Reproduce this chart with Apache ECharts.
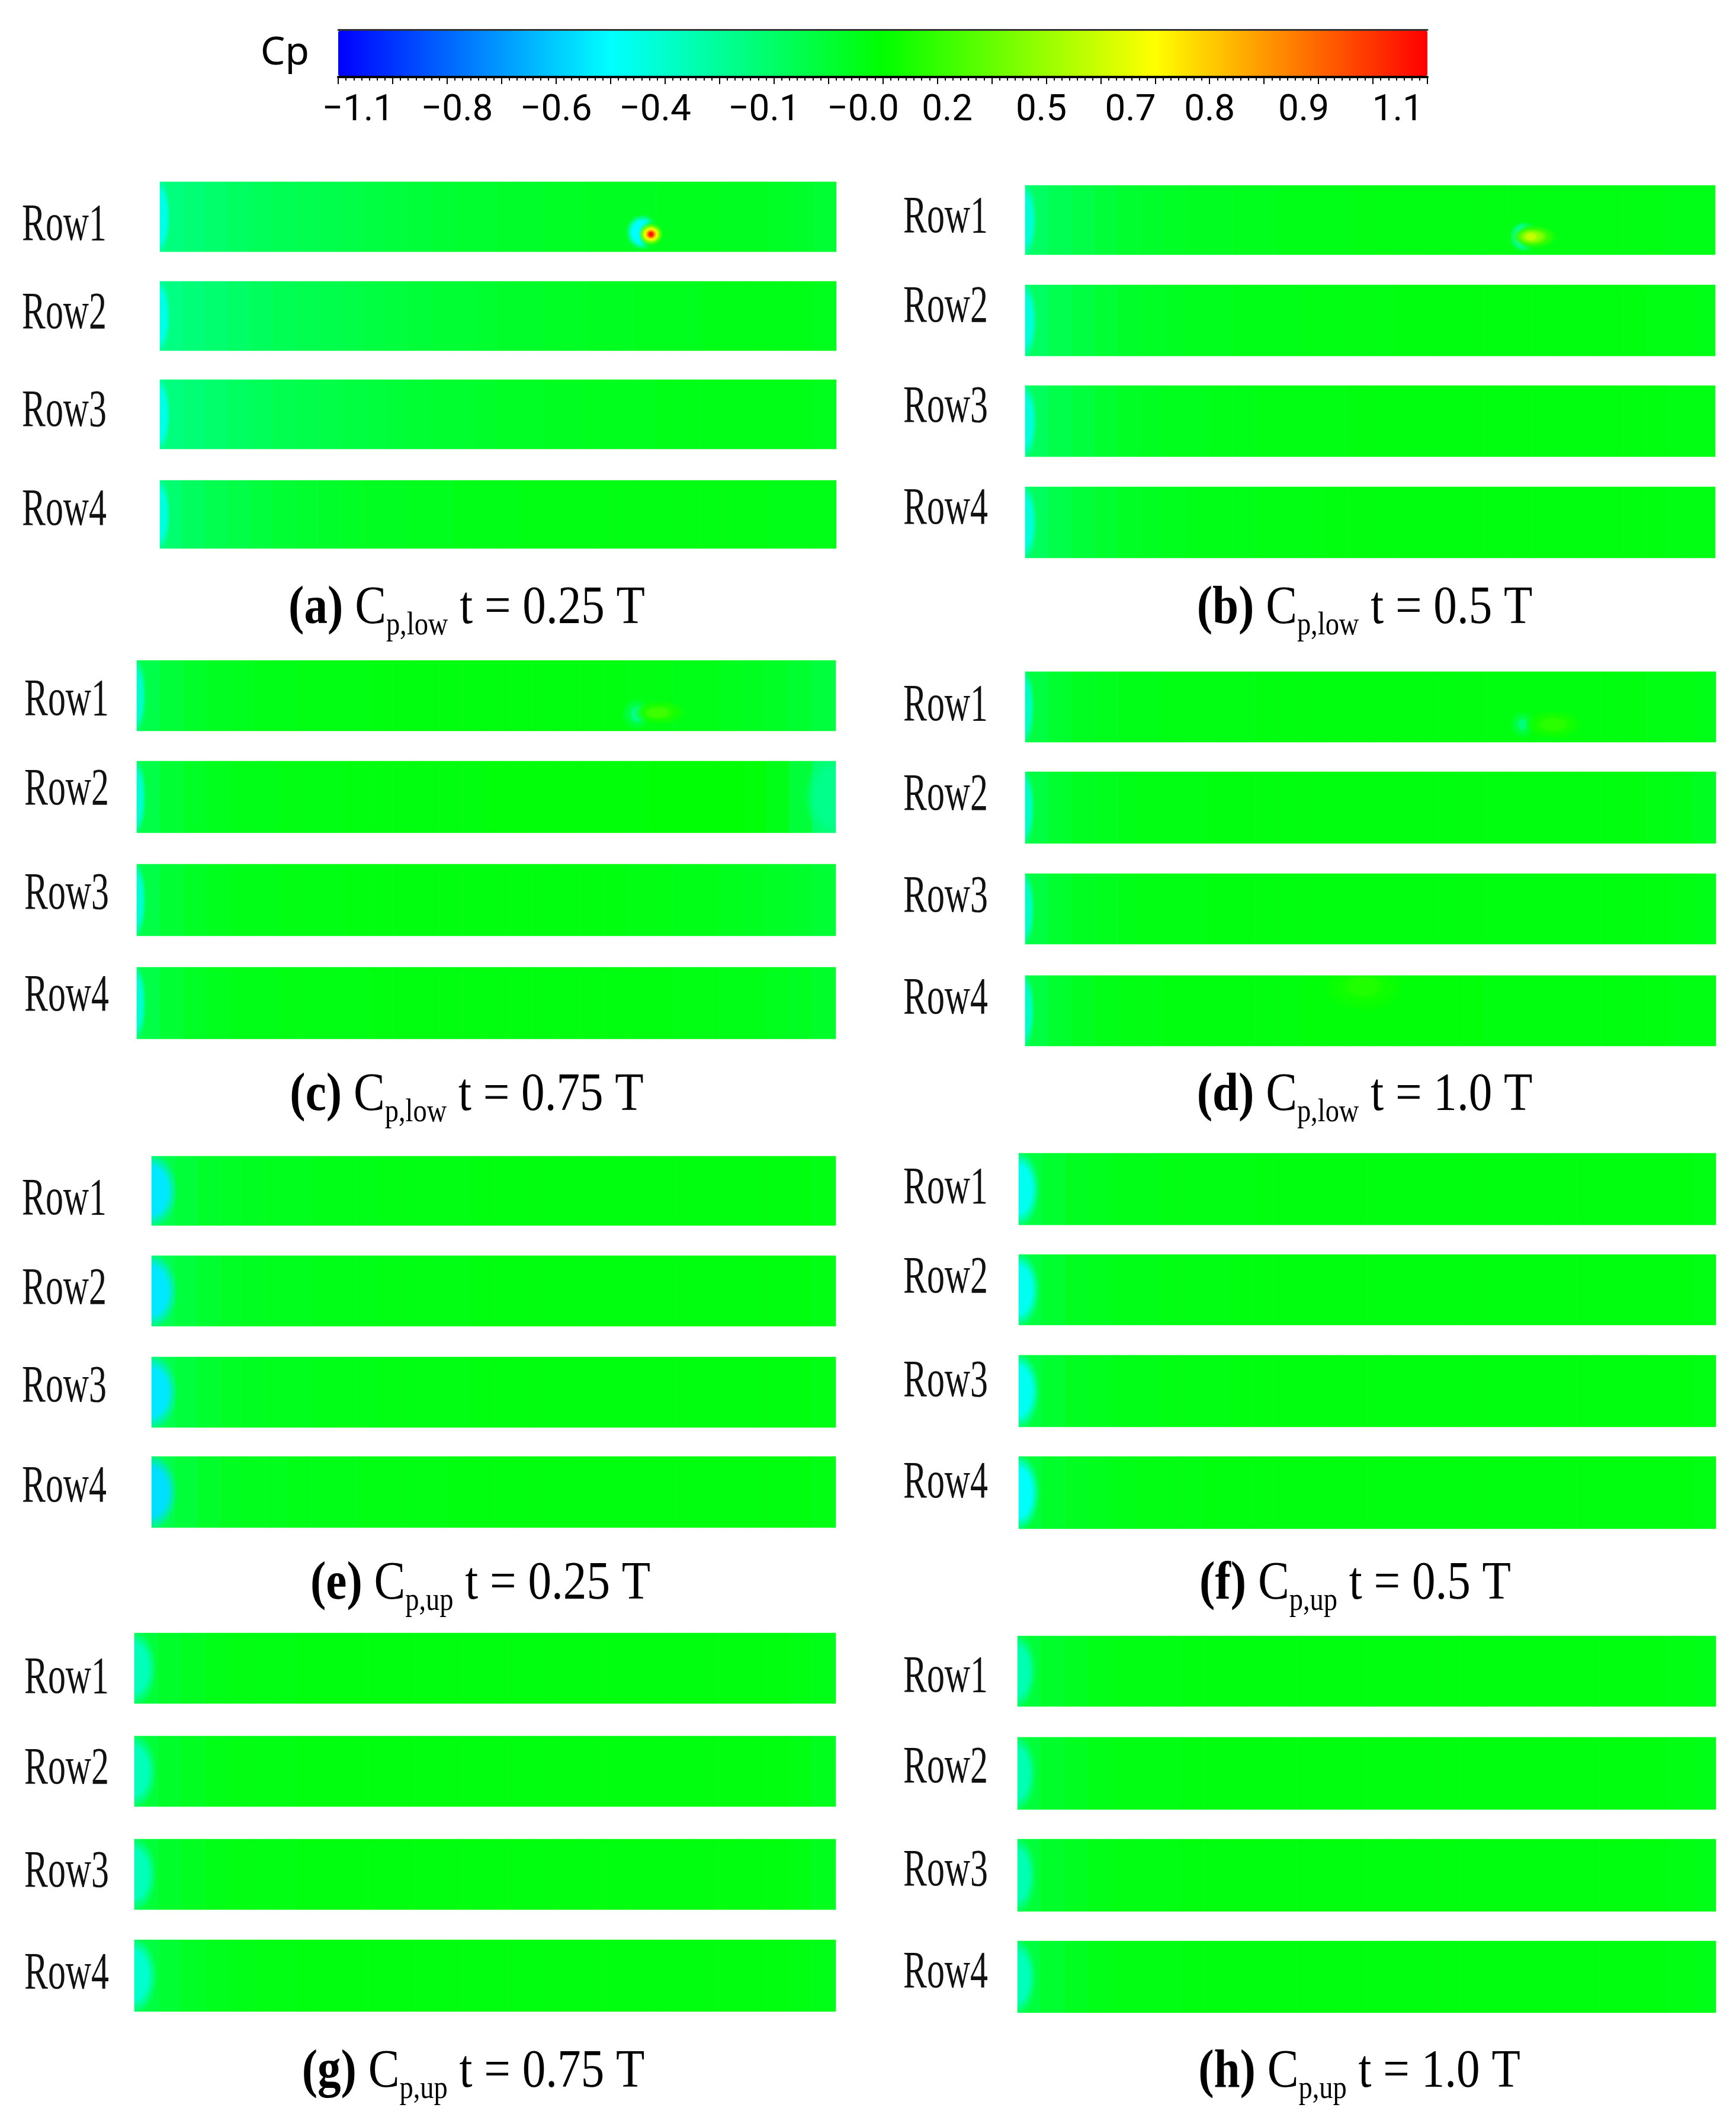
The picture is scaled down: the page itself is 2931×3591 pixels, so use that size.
<!DOCTYPE html>
<html>
<head>
<meta charset="utf-8">
<script src="https://cdn.jsdelivr.net/npm/echarts@6/dist/echarts.min.js"></script>
<style>
  html, body { margin: 0; background: #fff; }
  #chart { width: 2931px; height: 3591px; }
</style>
</head>
<body>
<div id="chart"></div>
<script>
// chordwise stations along each blade row (30 cells, leading edge at left)
const cols = Array.from({ length: 30 }, (_, i) => i);
const rowNames = ['Row1', 'Row2', 'Row3', 'Row4'];

// colour bar tick labels (as printed) and where they sit on the Cp scale
const cbTickText = ['\u22121.1', '\u22120.8', '\u22120.6', '\u22120.4', '\u22120.1', '\u22120.0', '0.2', '0.5', '0.7', '0.8', '0.9', '1.1'];
const cbTickAt = [-1.06, -0.86, -0.66, -0.46, -0.24, -0.04, 0.13, 0.32, 0.50, 0.66, 0.85, 1.04];

// caption parts
const captionTags = ['(a)', '(b)', '(c)', '(d)', '(e)', '(f)', '(g)', '(h)'];
const captionSubs = ['p,low', 'p,low', 'p,low', 'p,low', 'p,up', 'p,up', 'p,up', 'p,up'];
const captionTimes = ['0.25', '0.5', '0.75', '1.0', '0.25', '0.5', '0.75', '1.0'];

// Cp along the chord, one list per row (lower surface)
const cpLow025 = [
  [-0.27,-0.25,-0.23,-0.21,-0.19,-0.18,-0.17,-0.16,-0.15,-0.14,-0.13,-0.12,-0.11,-0.10,-0.10,-0.09,-0.09,-0.08,-0.08,-0.07,-0.07,-0.07,-0.06,-0.06,-0.06,-0.07,-0.07,-0.08,-0.09,-0.11],
  [-0.28,-0.26,-0.24,-0.22,-0.20,-0.18,-0.17,-0.16,-0.15,-0.14,-0.13,-0.12,-0.11,-0.11,-0.10,-0.09,-0.09,-0.08,-0.08,-0.07,-0.07,-0.06,-0.06,-0.06,-0.05,-0.05,-0.05,-0.05,-0.05,-0.06],
  [-0.27,-0.25,-0.23,-0.21,-0.19,-0.17,-0.16,-0.15,-0.14,-0.13,-0.12,-0.11,-0.10,-0.10,-0.09,-0.08,-0.08,-0.07,-0.07,-0.06,-0.06,-0.06,-0.05,-0.05,-0.05,-0.05,-0.05,-0.05,-0.05,-0.06],
  [-0.24,-0.20,-0.17,-0.15,-0.13,-0.11,-0.10,-0.09,-0.08,-0.07,-0.07,-0.06,-0.06,-0.05,-0.05,-0.05,-0.04,-0.04,-0.04,-0.04,-0.04,-0.04,-0.04,-0.04,-0.04,-0.04,-0.04,-0.05,-0.05,-0.05]
];
const cpLow05 = [
  [-0.21,-0.18,-0.15,-0.12,-0.10,-0.09,-0.08,-0.07,-0.07,-0.06,-0.06,-0.05,-0.05,-0.05,-0.04,-0.04,-0.04,-0.04,-0.04,-0.04,-0.04,-0.04,-0.04,-0.04,-0.04,-0.04,-0.04,-0.04,-0.05,-0.05],
  [-0.21,-0.17,-0.14,-0.11,-0.09,-0.08,-0.07,-0.06,-0.06,-0.05,-0.05,-0.05,-0.04,-0.04,-0.04,-0.04,-0.03,-0.03,-0.03,-0.03,-0.03,-0.03,-0.03,-0.03,-0.03,-0.03,-0.03,-0.04,-0.04,-0.05],
  [-0.20,-0.16,-0.13,-0.10,-0.08,-0.07,-0.06,-0.06,-0.05,-0.05,-0.04,-0.04,-0.04,-0.04,-0.03,-0.03,-0.03,-0.03,-0.03,-0.03,-0.03,-0.03,-0.03,-0.03,-0.03,-0.03,-0.03,-0.03,-0.04,-0.04],
  [-0.20,-0.16,-0.12,-0.10,-0.08,-0.07,-0.06,-0.05,-0.05,-0.05,-0.04,-0.04,-0.04,-0.03,-0.03,-0.03,-0.03,-0.03,-0.03,-0.03,-0.03,-0.03,-0.03,-0.03,-0.03,-0.03,-0.03,-0.03,-0.04,-0.04]
];
const cpLow075 = [
  [-0.16,-0.12,-0.09,-0.07,-0.06,-0.05,-0.05,-0.04,-0.04,-0.04,-0.03,-0.03,-0.03,-0.03,-0.03,-0.03,-0.03,-0.03,-0.03,-0.03,-0.03,-0.04,-0.04,-0.05,-0.05,-0.06,-0.07,-0.08,-0.10,-0.13],
  [-0.15,-0.11,-0.08,-0.06,-0.05,-0.05,-0.04,-0.04,-0.04,-0.03,-0.03,-0.03,-0.03,-0.03,-0.03,-0.02,-0.02,-0.02,-0.02,-0.02,-0.02,-0.02,-0.01,-0.01,-0.01,-0.01,-0.02,-0.05,-0.12,-0.22],
  [-0.15,-0.11,-0.08,-0.06,-0.05,-0.05,-0.04,-0.04,-0.04,-0.03,-0.03,-0.03,-0.03,-0.03,-0.03,-0.03,-0.03,-0.03,-0.03,-0.03,-0.03,-0.04,-0.04,-0.05,-0.05,-0.06,-0.07,-0.08,-0.09,-0.11],
  [-0.15,-0.11,-0.08,-0.06,-0.05,-0.05,-0.04,-0.04,-0.04,-0.04,-0.03,-0.03,-0.03,-0.03,-0.03,-0.03,-0.03,-0.03,-0.03,-0.03,-0.03,-0.03,-0.03,-0.04,-0.04,-0.05,-0.05,-0.06,-0.07,-0.09]
];
const cpLow10 = [
  [-0.14,-0.10,-0.07,-0.06,-0.05,-0.05,-0.04,-0.04,-0.04,-0.04,-0.03,-0.03,-0.03,-0.03,-0.03,-0.03,-0.03,-0.03,-0.03,-0.03,-0.03,-0.03,-0.03,-0.03,-0.03,-0.03,-0.03,-0.04,-0.04,-0.05],
  [-0.14,-0.10,-0.07,-0.06,-0.05,-0.04,-0.04,-0.04,-0.03,-0.03,-0.03,-0.03,-0.03,-0.03,-0.03,-0.03,-0.03,-0.03,-0.03,-0.03,-0.03,-0.03,-0.03,-0.03,-0.03,-0.03,-0.03,-0.04,-0.05,-0.07],
  [-0.14,-0.10,-0.07,-0.06,-0.05,-0.04,-0.04,-0.04,-0.03,-0.03,-0.03,-0.03,-0.03,-0.03,-0.03,-0.03,-0.03,-0.03,-0.03,-0.03,-0.03,-0.03,-0.03,-0.03,-0.03,-0.03,-0.03,-0.03,-0.04,-0.05],
  [-0.14,-0.10,-0.07,-0.05,-0.04,-0.04,-0.03,-0.03,-0.03,-0.03,-0.03,-0.03,-0.02,-0.02,-0.02,-0.02,-0.02,-0.02,-0.02,-0.02,-0.03,-0.03,-0.03,-0.03,-0.03,-0.03,-0.03,-0.03,-0.04,-0.04]
];
// upper surface
const cpUp025 = [
  [-0.16,-0.12,-0.09,-0.08,-0.07,-0.06,-0.06,-0.05,-0.05,-0.05,-0.04,-0.04,-0.04,-0.04,-0.03,-0.03,-0.03,-0.03,-0.03,-0.03,-0.03,-0.03,-0.03,-0.03,-0.03,-0.03,-0.03,-0.03,-0.03,-0.04],
  [-0.17,-0.13,-0.10,-0.08,-0.07,-0.06,-0.06,-0.05,-0.05,-0.05,-0.04,-0.04,-0.04,-0.04,-0.03,-0.03,-0.03,-0.03,-0.03,-0.03,-0.03,-0.03,-0.03,-0.03,-0.03,-0.03,-0.03,-0.03,-0.03,-0.04],
  [-0.17,-0.13,-0.10,-0.08,-0.07,-0.06,-0.06,-0.05,-0.05,-0.05,-0.04,-0.04,-0.04,-0.04,-0.03,-0.03,-0.03,-0.03,-0.03,-0.03,-0.03,-0.03,-0.03,-0.03,-0.03,-0.03,-0.03,-0.03,-0.03,-0.04],
  [-0.16,-0.12,-0.09,-0.07,-0.06,-0.06,-0.05,-0.05,-0.05,-0.04,-0.04,-0.04,-0.04,-0.03,-0.03,-0.03,-0.03,-0.03,-0.03,-0.03,-0.03,-0.03,-0.03,-0.03,-0.03,-0.03,-0.03,-0.03,-0.03,-0.04]
];
const cpUp05 = [
  [-0.13,-0.10,-0.07,-0.06,-0.05,-0.05,-0.04,-0.04,-0.04,-0.04,-0.03,-0.03,-0.03,-0.03,-0.03,-0.03,-0.03,-0.03,-0.03,-0.03,-0.03,-0.03,-0.03,-0.03,-0.03,-0.03,-0.03,-0.03,-0.03,-0.04],
  [-0.13,-0.10,-0.07,-0.06,-0.05,-0.05,-0.04,-0.04,-0.04,-0.03,-0.03,-0.03,-0.03,-0.03,-0.03,-0.03,-0.03,-0.03,-0.03,-0.03,-0.03,-0.03,-0.03,-0.03,-0.03,-0.03,-0.03,-0.03,-0.03,-0.04],
  [-0.13,-0.10,-0.07,-0.06,-0.05,-0.05,-0.04,-0.04,-0.04,-0.03,-0.03,-0.03,-0.03,-0.03,-0.03,-0.03,-0.03,-0.03,-0.03,-0.03,-0.03,-0.03,-0.03,-0.03,-0.03,-0.03,-0.03,-0.03,-0.03,-0.04],
  [-0.12,-0.09,-0.07,-0.06,-0.05,-0.04,-0.04,-0.04,-0.03,-0.03,-0.03,-0.03,-0.03,-0.03,-0.03,-0.03,-0.03,-0.03,-0.03,-0.03,-0.03,-0.03,-0.03,-0.03,-0.03,-0.03,-0.03,-0.03,-0.03,-0.04]
];
const cpUp075 = [
  [-0.12,-0.09,-0.07,-0.05,-0.04,-0.04,-0.04,-0.03,-0.03,-0.03,-0.03,-0.03,-0.03,-0.03,-0.03,-0.03,-0.03,-0.03,-0.03,-0.03,-0.03,-0.03,-0.03,-0.03,-0.03,-0.03,-0.03,-0.03,-0.04,-0.05],
  [-0.12,-0.09,-0.07,-0.05,-0.04,-0.04,-0.04,-0.03,-0.03,-0.03,-0.03,-0.03,-0.03,-0.03,-0.03,-0.03,-0.03,-0.03,-0.03,-0.03,-0.03,-0.03,-0.03,-0.03,-0.03,-0.03,-0.03,-0.03,-0.04,-0.06],
  [-0.12,-0.09,-0.07,-0.05,-0.04,-0.04,-0.04,-0.03,-0.03,-0.03,-0.03,-0.03,-0.03,-0.03,-0.03,-0.03,-0.03,-0.03,-0.03,-0.03,-0.03,-0.03,-0.03,-0.03,-0.03,-0.03,-0.03,-0.03,-0.04,-0.06],
  [-0.14,-0.11,-0.08,-0.06,-0.05,-0.04,-0.04,-0.03,-0.03,-0.03,-0.03,-0.03,-0.03,-0.03,-0.03,-0.03,-0.03,-0.03,-0.03,-0.03,-0.03,-0.03,-0.03,-0.03,-0.03,-0.03,-0.03,-0.03,-0.04,-0.05]
];
const cpUp10 = [
  [-0.12,-0.09,-0.07,-0.05,-0.04,-0.04,-0.04,-0.03,-0.03,-0.03,-0.03,-0.03,-0.03,-0.03,-0.03,-0.03,-0.03,-0.03,-0.03,-0.03,-0.03,-0.03,-0.03,-0.03,-0.03,-0.03,-0.03,-0.03,-0.04,-0.05],
  [-0.12,-0.09,-0.07,-0.05,-0.04,-0.04,-0.04,-0.03,-0.03,-0.03,-0.03,-0.03,-0.03,-0.03,-0.03,-0.03,-0.03,-0.03,-0.03,-0.03,-0.03,-0.03,-0.03,-0.03,-0.03,-0.03,-0.03,-0.03,-0.04,-0.05],
  [-0.12,-0.09,-0.07,-0.05,-0.04,-0.04,-0.04,-0.03,-0.03,-0.03,-0.03,-0.03,-0.03,-0.03,-0.03,-0.03,-0.03,-0.03,-0.03,-0.03,-0.03,-0.03,-0.03,-0.03,-0.03,-0.03,-0.03,-0.03,-0.04,-0.05],
  [-0.13,-0.10,-0.07,-0.05,-0.04,-0.04,-0.04,-0.03,-0.03,-0.03,-0.03,-0.03,-0.03,-0.03,-0.03,-0.03,-0.03,-0.03,-0.03,-0.03,-0.03,-0.03,-0.03,-0.03,-0.03,-0.03,-0.03,-0.03,-0.04,-0.05]
];
const fields = [cpLow025, cpLow05, cpLow075, cpLow10, cpUp025, cpUp05, cpUp075, cpUp10];

// Cp right at the leading edge of each row
const edgeLow025 = [-0.50, -0.50, -0.50, -0.48];
const edgeLow05 = [-0.46, -0.47, -0.47, -0.47];
const edgeLow075 = [-0.44, -0.45, -0.45, -0.45];
const edgeLow10 = [-0.42, -0.43, -0.43, -0.43];
const edgeUp025 = [-0.60, -0.60, -0.60, -0.62];
const edgeUp05 = [-0.52, -0.52, -0.52, -0.54];
const edgeUp075 = [-0.40, -0.40, -0.40, -0.44];
const edgeUp10 = [-0.38, -0.38, -0.38, -0.40];
const edges = [edgeLow025, edgeLow05, edgeLow075, edgeLow10, edgeUp025, edgeUp05, edgeUp075, edgeUp10];

// Cp at the trailing edge of (c) Row2, where the flow turns teal again
const trailLow075Row2 = [[1, 0.5, -0.30]];

// local pressure spots: [chord fraction, span fraction from top, Cp]
const spotLow025Row1 = [[0.713, 0.72, -0.55], [0.730, 0.76, -0.05], [0.726, 0.75, 0.30], [0.726, 0.75, 0.55], [0.726, 0.75, 0.80], [0.726, 0.75, 1.05]];
const spotLow05Row1 = [[0.722, 0.74, -0.38], [0.733, 0.74, -0.05], [0.737, 0.74, 0.12], [0.735, 0.74, 0.30], [0.733, 0.74, 0.42]];
const spotLow075Row1 = [[0.715, 0.76, -0.14], [0.716, 0.76, -0.30], [0.748, 0.74, 0.05], [0.746, 0.74, 0.13]];
const spotLow10Row1 = [[0.720, 0.75, -0.12], [0.720, 0.75, -0.26], [0.765, 0.75, 0.04], [0.765, 0.75, 0.09]];
const spotLow10Row4 = [[0.49, 0.15, 0.03], [0.49, 0.15, 0.07]];

// spot sizes in px [w, h], one per layer
const spots = [
  { panel: 0, row: 0, pts: spotLow025Row1, sizes: [[56, 60], [52, 54], [42, 38], [30, 27], [20, 18], [11, 11]] },
  { panel: 1, row: 0, pts: spotLow05Row1, sizes: [[48, 52], [44, 46], [80, 40], [50, 26], [24, 16]] },
  { panel: 2, row: 0, pts: spotLow075Row1, sizes: [[50, 54], [26, 32], [90, 42], [50, 24]] },
  { panel: 3, row: 0, pts: spotLow10Row1, sizes: [[44, 48], [20, 24], [100, 50], [56, 28]] },
  { panel: 3, row: 3, pts: spotLow10Row4, sizes: [[140, 90], [70, 44]] }
];

// page layout (pixels)
const layout = [
  { left: 270,  right: 1412, labelX: 37,   edgeW: 18, labelY: [382, 531, 696, 863],     rows: [[307, 425], [475, 592], [641, 758], [811, 926]],         cap: [788, 1028] },
  { left: 1731, right: 2896, labelX: 1525, edgeW: 20, labelY: [369, 520, 689, 861],     rows: [[313, 430], [481, 601], [651, 771], [822, 942]],         cap: [2304, 1028] },
  { left: 231,  right: 1411, labelX: 41,   edgeW: 16, labelY: [1184, 1335, 1511, 1683], rows: [[1115, 1234], [1285, 1406], [1459, 1580], [1633, 1754]], cap: [788, 1850] },
  { left: 1731, right: 2897, labelX: 1525, edgeW: 16, labelY: [1193, 1344, 1516, 1688], rows: [[1134, 1253], [1303, 1424], [1475, 1594], [1647, 1766]], cap: [2304, 1850] },
  { left: 256,  right: 1411, labelX: 37,   edgeW: 44, labelY: [2027, 2178, 2343, 2512], rows: [[1952, 2069], [2120, 2239], [2291, 2410], [2459, 2579]], cap: [811, 2675] },
  { left: 1720, right: 2897, labelX: 1525, edgeW: 36, labelY: [2008, 2159, 2334, 2505], rows: [[1947, 2068], [2118, 2237], [2288, 2409], [2459, 2581]], cap: [2288, 2675] },
  { left: 227,  right: 1411, labelX: 41,   edgeW: 38, labelY: [2835, 2988, 3162, 3334], rows: [[2757, 2876], [2931, 3050], [3105, 3224], [3275, 3396]], cap: [799, 3499] },
  { left: 1718, right: 2897, labelX: 1525, edgeW: 32, labelY: [2833, 2986, 3160, 3332], rows: [[2762, 2881], [2933, 3055], [3105, 3227], [3277, 3398]], cap: [2295, 3499] }
];

const RAINBOW = ['#0000ff', '#00ffff', '#00ff00', '#ffff00', '#ff0000'];
const SERIF = 'Liberation Serif';

const chart = echarts.init(document.getElementById('chart'));

// soft-edged ellipse drawn in the strip's unit axes, colour from the visualMap
function softBlob(sizeOf) {
  return function (params, api) {
    const c = api.coord([api.value(0), api.value(1)]);
    const sz = sizeOf(params.dataIndex);
    const col = api.visual('color');
    return {
      type: 'circle',
      x: c[0], y: c[1], scaleX: sz[0] / 2, scaleY: sz[1] / 2,
      shape: { cx: 0, cy: 0, r: 1 },
      style: {
        fill: new echarts.graphic.RadialGradient(0.5, 0.5, 0.5, [
          { offset: 0, color: col },
          { offset: 0.6, color: col },
          { offset: 1, color: echarts.color.modifyAlpha(col, 0) }
        ])
      }
    };
  };
}

const option = {
  animation: false,
  backgroundColor: '#ffffff',
  title: [],
  grid: [],
  xAxis: [],
  yAxis: [],
  series: [],
  graphic: [],
  visualMap: {
    type: 'continuous',
    min: -1.1,
    max: 1.1,
    orient: 'horizontal',
    left: 571,
    top: 52,
    itemWidth: 76,
    itemHeight: 1839,
    padding: 0,
    calculable: false,
    hoverLink: false,
    inRange: { color: RAINBOW }
  }
};

// one grid per blade row: category axes for the heatmap, unit value axes for overlays
const gridOf = {};
layout.forEach((L, p) => {
  L.rows.forEach((rb, r) => {
    const g = option.grid.length;
    const h = rb[1] - rb[0];
    gridOf[p + '_' + r] = g;
    option.grid.push({ left: L.left, top: rb[0], width: L.right - L.left, height: h, outerBoundsMode: 'none' });
    option.xAxis.push({ gridIndex: g, type: 'category', data: cols, show: false });
    option.xAxis.push({ gridIndex: g, type: 'value', min: 0, max: 1, show: false });
    option.yAxis.push({ gridIndex: g, type: 'category', data: [rowNames[r]], show: false });
    option.yAxis.push({ gridIndex: g, type: 'value', min: 0, max: 1, inverse: true, show: false });
    option.series.push({
      type: 'heatmap',
      xAxisIndex: 2 * g, yAxisIndex: 2 * g,
      data: fields[p][r].map((v, i) => [i, 0, v]),
      silent: true,
      emphasis: { disabled: true }
    });
    // leading-edge suction band (bow shaped, clipped to the row)
    option.series.push({
      type: 'custom',
      xAxisIndex: 2 * g + 1, yAxisIndex: 2 * g + 1,
      data: [[0, 0.5, edges[p][r]]],
      clip: true, silent: true, z: 3,
      renderItem: softBlob(() => [L.edgeW * 2, h * 1.1])
    });
    option.graphic.push({
      type: 'text', x: L.labelX, y: L.labelY[r], scaleX: 0.68, silent: true,
      style: { text: rowNames[r], fontFamily: SERIF, fontSize: 88, fill: '#111', verticalAlign: 'middle', align: 'left' }
    });
  });
});

// trailing-edge patch on (c) Row2
{
  const g = gridOf['2_1'];
  option.series.push({
    type: 'custom',
    xAxisIndex: 2 * g + 1, yAxisIndex: 2 * g + 1,
    data: trailLow075Row2,
    clip: true, silent: true, z: 3,
    renderItem: softBlob(() => [110, 150])
  });
}

spots.forEach(s => {
  const g = gridOf[s.panel + '_' + s.row];
  option.series.push({
    type: 'custom',
    xAxisIndex: 2 * g + 1, yAxisIndex: 2 * g + 1,
    data: s.pts,
    clip: true, silent: true, z: 4,
    renderItem: softBlob(i => s.sizes[i])
  });
});

// colour bar frame, ticks and labels
const cg = option.grid.length;
option.grid.push({ left: 571, top: 50, width: 1839, height: 80, outerBoundsMode: 'none' });
option.xAxis.push({
  gridIndex: cg, type: 'value', position: 'bottom', min: -1.1, max: 1.1, interval: 0.11,
  axisLine: { show: true, lineStyle: { color: '#000', width: 4 } },
  axisTick: { show: true, length: 12, lineStyle: { color: '#000', width: 2 } },
  minorTick: { show: true, splitNumber: 7, length: 6, lineStyle: { color: '#000', width: 2 } },
  axisLabel: { show: false }, splitLine: { show: false }
});
option.xAxis.push({
  gridIndex: cg, type: 'value', position: 'top', min: -1.1, max: 1.1,
  axisLine: { show: true, lineStyle: { color: '#333', width: 3 } },
  axisTick: { show: false }, axisLabel: { show: false }, splitLine: { show: false }
});
option.xAxis.push({
  gridIndex: cg, type: 'value', position: 'bottom', min: -1.1, max: 1.1,
  axisLine: { show: false }, axisTick: { show: false }, splitLine: { show: false },
  axisLabel: {
    customValues: cbTickAt,
    margin: 26,
    fontFamily: 'Roboto', fontSize: 62, color: '#000',
    formatter: v => {
      const k = cbTickAt.findIndex(t => Math.abs(t - v) < 1e-6);
      return k < 0 ? '' : cbTickText[k];
    }
  }
});
option.yAxis.push({ gridIndex: cg, type: 'value', min: 0, max: 1, show: false });

option.title.push({
  text: 'Cp', left: 481, top: 90, textAlign: 'center', textVerticalAlign: 'middle', padding: 0,
  textStyle: { fontFamily: 'Noto Sans', fontSize: 66, fontWeight: 'normal', color: '#000' }
});

// panel captions, slightly condensed like the source figure
layout.forEach((L, p) => {
  option.graphic.push({
    type: 'text', x: L.cap[0], y: L.cap[1], scaleX: 0.86, silent: true,
    style: {
      text: '{b|' + captionTags[p] + '} C{s|' + captionSubs[p] + '} t = ' + captionTimes[p] + ' T',
      align: 'center', verticalAlign: 'middle',
      fontFamily: SERIF, fontSize: 92, fill: '#000', lineHeight: 112,
      rich: {
        b: { fontFamily: SERIF, fontSize: 92, fontWeight: 'bold', fill: '#000', lineHeight: 112 },
        s: { fontFamily: SERIF, fontSize: 54, fill: '#000', lineHeight: 66, verticalAlign: 'bottom' }
      }
    }
  });
});

chart.setOption(option);
</script>
</body>
</html>
